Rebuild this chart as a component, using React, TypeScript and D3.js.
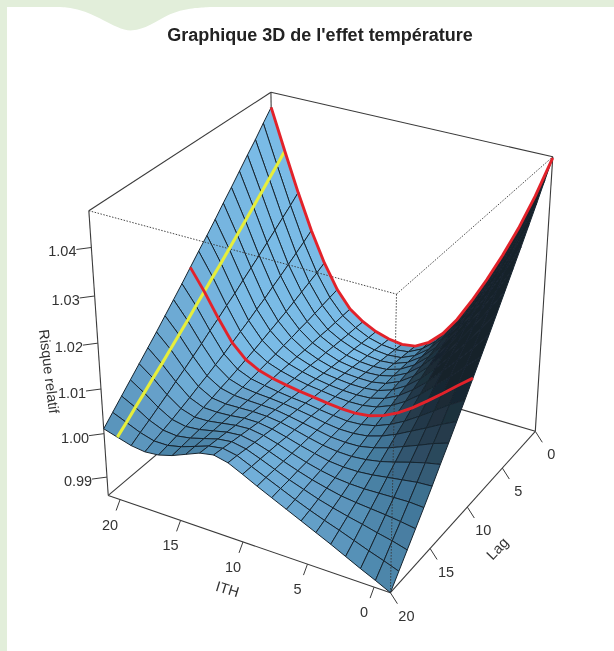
import React from "react";
import * as d3 from "d3";

const width = 614;
const height = 651;

const ithTicks = [20, 15, 10, 5, 0];
const lagTicks = [0, 5, 10, 15, 20];
const riskTicks = [0.99, 1.0, 1.01, 1.02, 1.03, 1.04];

const lagGrid = d3.range(0, 21);
// risk minus 1, in 1/10000, one row per ITH grid line (from ITH 21 down to -1.2), one value per lag
const riskExcess = [
  [441, 418, 394, 372, 349, 326, 304, 281, 259, 238, 216, 194, 173, 152, 131, 111, 91, 71, 51, 31, 11],
  [351, 332, 314, 295, 277, 259, 241, 223, 205, 188, 170, 153, 135, 118, 101, 84, 68, 51, 35, 18, 2],
  [264, 248, 233, 218, 203, 188, 174, 160, 145, 132, 118, 105, 91, 78, 65, 53, 40, 28, 16, 5, -7],
  [184, 171, 159, 147, 135, 124, 112, 102, 91, 81, 71, 61, 52, 43, 35, 26, 18, 10, 3, -4, -11],
  [116, 107, 99, 91, 83, 75, 68, 61, 54, 47, 41, 35, 29, 24, 18, 13, 8, 4, 0, -4, -8],
  [61, 57, 53, 49, 45, 42, 38, 35, 31, 28, 25, 22, 19, 17, 14, 12, 9, 7, 5, 3, 1],
  [23, 22, 21, 20, 20, 19, 18, 18, 17, 17, 16, 16, 15, 15, 15, 14, 14, 14, 14, 14, 14],
  [1, 2, 2, 3, 4, 5, 5, 7, 8, 9, 10, 11, 13, 14, 16, 18, 19, 21, 23, 25, 27],
  [-14, -13, -11, -9, -8, -6, -4, -2, 1, 3, 5, 7, 10, 13, 15, 18, 21, 24, 27, 30, 33],
  [-23, -21, -18, -16, -14, -11, -9, -6, -4, -1, 1, 4, 6, 8, 11, 13, 16, 18, 21, 24, 26],
  [-27, -24, -21, -19, -16, -14, -11, -9, -7, -5, -3, -1, 1, 2, 4, 5, 7, 8, 9, 10, 11],
  [-22, -20, -18, -16, -14, -12, -11, -9, -8, -7, -6, -5, -5, -4, -4, -4, -4, -4, -4, -4, -5],
  [-4, -4, -4, -4, -4, -4, -5, -5, -6, -6, -7, -8, -9, -10, -11, -12, -14, -15, -17, -18, -20],
  [26, 23, 20, 18, 15, 12, 9, 6, 3, 0, -3, -6, -9, -12, -15, -19, -22, -25, -28, -32, -35],
  [68, 62, 56, 49, 43, 37, 31, 25, 19, 13, 7, 1, -5, -11, -16, -22, -28, -33, -39, -45, -50],
  [120, 110, 100, 90, 80, 70, 61, 51, 42, 32, 23, 14, 5, -4, -13, -22, -31, -40, -48, -57, -65],
  [177, 163, 150, 136, 123, 109, 96, 83, 70, 57, 44, 31, 19, 6, -7, -19, -32, -44, -56, -68, -80],
  [239, 222, 205, 188, 170, 153, 136, 120, 103, 86, 69, 52, 36, 19, 2, -14, -31, -47, -63, -80, -96],
  [307, 286, 264, 243, 222, 200, 179, 158, 137, 116, 95, 74, 53, 32, 12, -9, -30, -50, -71, -92, -112],
  [384, 357, 331, 304, 278, 251, 225, 199, 173, 148, 122, 97, 71, 46, 21, -4, -29, -54, -78, -103, -127],
  [472, 438, 404, 371, 338, 306, 274, 242, 210, 179, 148, 117, 87, 57, 28, -2, -31, -59, -87, -115, -143],
];
const ithGrid = riskExcess.map((_, i) => 21 - i * 1.11);

// scales from data to the unit box
const uScale = d3.scaleLinear().domain([21, -1.2]).range([0, 1]);
const vScale = d3.scaleLinear().domain([0, 20]).range([0, 1]);
const wScale = d3.scaleLinear().domain([0.9857, 1.0474]).range([0, 1]);

// where the box corners land on the page: [u, v, w, px, py]
const boxCorners = [
  [0, 1, 0, 108, 496],
  [1, 1, 0, 391, 592],
  [1, 0, 0, 535, 432],
  [0, 0, 0, 275, 354],
  [0, 1, 1, 89, 210],
  [1, 1, 1, 396, 295],
  [1, 0, 1, 553, 156],
  [0, 0, 1, 271, 93],
];

// least squares fit of a 3x4 perspective matrix on the corners
function fitProjection(corners: number[][]) {
  const rows: number[][] = [];
  corners.forEach(([u, v, w, x, y]) => {
    rows.push([u, v, w, 1, 0, 0, 0, 0, -x * u, -x * v, -x * w, x]);
    rows.push([0, 0, 0, 0, u, v, w, 1, -y * u, -y * v, -y * w, y]);
  });
  const n = 11;
  const m = d3.range(n).map((a) =>
    d3.range(n + 1).map((b) => d3.sum(rows, (r) => r[a] * r[b]))
  );
  for (let c = 0; c < n; c++) {
    let p = c;
    for (let r = c + 1; r < n; r++) if (Math.abs(m[r][c]) > Math.abs(m[p][c])) p = r;
    [m[c], m[p]] = [m[p], m[c]];
    for (let r = 0; r < n; r++) {
      if (r === c) continue;
      const f = m[r][c] / m[c][c];
      for (let k = c; k <= n; k++) m[r][k] -= f * m[c][k];
    }
  }
  return m.map((r, i) => r[n] / r[i]);
}

const P = fitProjection(boxCorners);

function project(u: number, v: number, w: number): [number, number] {
  const h = P[8] * u + P[9] * v + P[10] * w + 1;
  return [
    (P[0] * u + P[1] * v + P[2] * w + P[3]) / h,
    (P[4] * u + P[5] * v + P[6] * w + P[7]) / h,
  ];
}

const surfacePoint = (i: number, k: number) =>
  project(uScale(ithGrid[i]), vScale(lagGrid[k]), wScale(1 + riskExcess[i][k] / 10000));

// shading
const light = [0.68, -0.35, 0.64];
const shadeColor = d3
  .scaleLinear<string>()
  .domain([-0.25, -0.05, 0.1, 0.35, 0.55, 0.75])
  .range(["#17222b", "#2b465a", "#3f7395", "#5590b6", "#659fc8", "#7abbe6"])
  .clamp(true);

const nI = ithGrid.length - 1;
const nK = lagGrid.length - 1;
const wAt = (a: number, b: number) => wScale(1 + riskExcess[a][b] / 10000);

// lambert term per cell, darker toward the front of the lag axis
const rawShade = d3.range(nI).map((i) =>
  d3.range(nK).map((k) => {
    const du = uScale(ithGrid[i + 1]) - uScale(ithGrid[i]);
    const dv = vScale(lagGrid[k + 1]) - vScale(lagGrid[k]);
    const gu = (wAt(i + 1, k) + wAt(i + 1, k + 1) - wAt(i, k) - wAt(i, k + 1)) / (2 * du);
    const gv = (wAt(i, k + 1) + wAt(i + 1, k + 1) - wAt(i, k) - wAt(i + 1, k)) / (2 * dv);
    const len = Math.hypot(gu, gv, 1);
    return (-gu * light[0] - gv * light[1] + light[2]) / len - 0.22 * vScale(lagGrid[k]);
  })
);
// the neighbours are averaged, so the shade runs smoothly over the mesh
const smoothShade = (i: number, k: number) => {
  const near: number[] = [];
  for (let a = Math.max(0, i - 1); a <= Math.min(nI - 1, i + 1); a++)
    for (let b = Math.max(0, k - 1); b <= Math.min(nK - 1, k + 1); b++) near.push(rawShade[a][b]);
  return d3.mean(near)!;
};

type Cell = { d: string; fill: string; order: number };
const pathLine = d3.line();
const cells: Cell[] = [];
for (let i = 0; i < nI; i++) {
  for (let k = 0; k < nK; k++) {
    cells.push({
      d: pathLine([surfacePoint(i, k), surfacePoint(i + 1, k), surfacePoint(i + 1, k + 1), surfacePoint(i, k + 1)])! + "Z",
      fill: shadeColor(smoothShade(i, k)),
      order: i + k,
    });
  }
}
cells.sort((a, b) => d3.ascending(a.order, b.order));

const corner = (u: number, v: number, w: number) => project(u, v, w);
const backEdges = [
  [corner(0, 1, 1), corner(0, 0, 1)],
  [corner(0, 0, 1), corner(1, 0, 1)],
  [corner(0, 0, 1), corner(0, 0, 0)],
  [corner(0, 1, 0), corner(0, 0, 0)],
  [corner(0, 0, 0), corner(1, 0, 0)],
  [corner(0, 1, 1), corner(0, 1, 0)],
  [corner(1, 0, 1), corner(1, 0, 0)],
  [corner(0, 1, 0), corner(1, 1, 0)],
  [corner(1, 1, 0), corner(1, 0, 0)],
];
const frontEdges = [
  [corner(0, 1, 1), corner(1, 1, 1)],
  [corner(1, 1, 1), corner(1, 0, 1)],
  [corner(1, 1, 1), corner(1, 1, 0)],
];

const lag0Line = pathLine(ithGrid.map((_, i) => surfacePoint(i, 0)))!;
const lag10Line = pathLine(ithGrid.map((_, i) => surfacePoint(i, 10)))!;
const ith20Line = pathLine(lagGrid.map((_, k) => surfacePoint(1, k)))!;

const cornerBlob = d3.line().curve(d3.curveBasis)([
  [60, 7], [80, 9], [100, 18], [118, 28], [132, 32], [150, 26], [170, 13], [190, 8], [210, 7],
])!;

const tickColor = "#3a3a3a";
const labelFont = { fontFamily: "Liberation Sans, Arial, sans-serif", fontSize: 14.5, fill: "#333" };

export default function App() {
  return (
    <svg
      width={width}
      height={height}
      viewBox={`0 0 ${width} ${height}`}
      style={{ position: "absolute", left: 0, top: 0, display: "block", background: "#fff" }}
    >
      <defs>
        <filter id="soft" x="0" y="0" width="1" height="1">
          <feGaussianBlur stdDeviation="0.4" />
        </filter>
      </defs>
      <rect x={0} y={0} width={width} height={7} fill="#e2eeda" />
      <rect x={0} y={0} width={7} height={height} fill="#e2eeda" />
      <path d={cornerBlob + "Z"} fill="#e2eeda" />

      <g filter="url(#soft)">
        <text
          x={320}
          y={41}
          textAnchor="middle"
          fontFamily="Liberation Sans, Arial, sans-serif"
          fontWeight="bold"
          fontSize={18}
          fill="#222"
        >
          Graphique 3D de l'effet température
        </text>

        {backEdges.map((e, i) => (
          <path key={i} d={pathLine(e)!} stroke={tickColor} strokeWidth={1.1} fill="none" />
        ))}

        {cells.map((c, i) => (
          <path key={i} d={c.d} fill={c.fill} stroke="#16242f" strokeWidth={1} strokeLinejoin="round" />
        ))}

        {frontEdges.map((e, i) => (
          <path key={i} d={pathLine(e)!} stroke="#333" strokeWidth={0.9} strokeDasharray="1.5 1.5" fill="none" />
        ))}

        <path d={ith20Line} stroke="#e6ee3a" strokeWidth={3.1} fill="none" />
        <path d={lag0Line} stroke="#e2242c" strokeWidth={2.9} fill="none" />
        <path d={lag10Line} stroke="#e2242c" strokeWidth={2.9} fill="none" />

        {riskTicks.map((t) => {
          const [x, y] = project(0, 1, wScale(t));
          return (
            <g key={t}>
              <path d={pathLine([[x, y], [x - 15, y + 2]])!} stroke={tickColor} fill="none" />
              <text x={x - 29} y={y + 9} textAnchor="middle" {...labelFont}>
                {t.toFixed(2)}
              </text>
            </g>
          );
        })}
        {ithTicks.map((t) => {
          const [x, y] = project(uScale(t), 1, 0);
          return (
            <g key={t}>
              <path d={pathLine([[x, y], [x - 4, y + 11]])!} stroke={tickColor} fill="none" />
              <text x={x - 10} y={y + 30} textAnchor="middle" {...labelFont}>
                {t}
              </text>
            </g>
          );
        })}
        {lagTicks.map((t) => {
          const [x, y] = project(1, vScale(t), 0);
          return (
            <g key={t}>
              <path d={pathLine([[x, y], [x + 7, y + 11]])!} stroke={tickColor} fill="none" />
              <text x={x + 16} y={y + 28} textAnchor="middle" {...labelFont}>
                {t}
              </text>
            </g>
          );
        })}

        <text transform="translate(226,594) rotate(17)" textAnchor="middle" {...labelFont}>
          ITH
        </text>
        <text transform="translate(501,552) rotate(-46)" textAnchor="middle" {...labelFont}>
          Lag
        </text>
        <text transform="translate(44,372) rotate(83)" textAnchor="middle" {...labelFont}>
          Risque relatif
        </text>
      </g>
    </svg>
  );
}
